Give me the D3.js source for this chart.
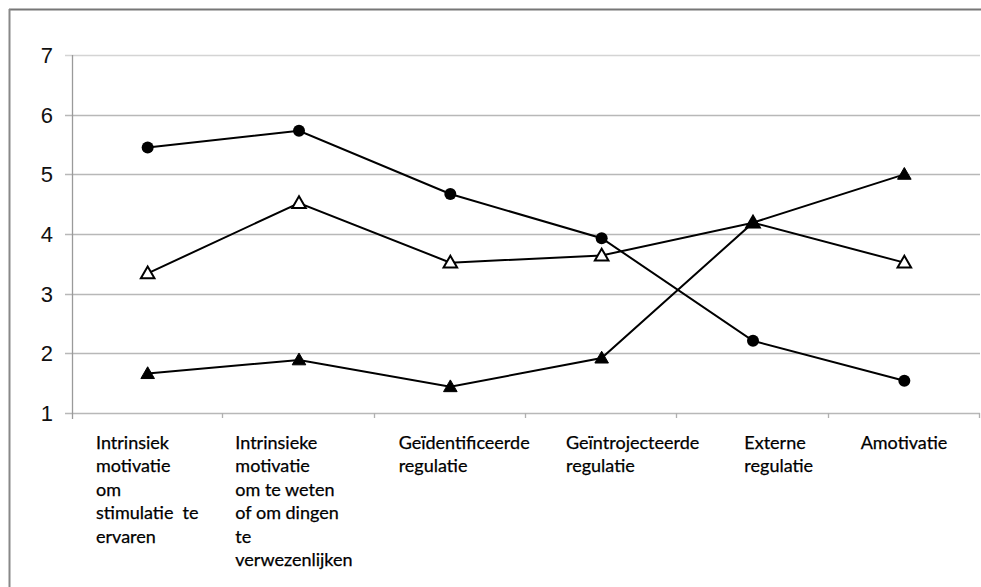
<!DOCTYPE html>
<html><head><meta charset="utf-8">
<script src="https://cdn.jsdelivr.net/npm/d3@7"></script>
<style>html,body{margin:0;padding:0;background:#fff;}</style>
</head><body>
<svg id="c" width="981" height="587"></svg>
<script>
const categories = [
  ["Intrinsiek","motivatie","om","stimulatie  te","ervaren"],
  ["Intrinsieke","motivatie","om te weten","of om dingen","te","verwezenlijken"],
  ["Geïdentificeerde","regulatie"],
  ["Geïntrojecteerde","regulatie"],
  ["Externe","regulatie"],
  ["Amotivatie"]
];
const yTicks = [1,2,3,4,5,6,7];
const seriesCircle = [5.45, 5.73, 4.67, 3.93, 2.21, 1.54];
const seriesOpenTri = [3.34, 4.52, 3.52, 3.64, 4.19, 3.52];
const seriesFilledTri = [1.66, 1.89, 1.44, 1.92, 4.19, 5.0];

const svg = d3.select("#c");
const W = 981, H = 587;
const x = d3.scaleBand().domain(d3.range(categories.length)).range([72, 980]).paddingInner(0).paddingOuter(0);
const y = d3.scaleLinear().domain([1,7]).range([413, 55]);

// frame (top & left edges)
svg.append("line").attr("x1",9).attr("x2",W).attr("y1",9.5).attr("y2",9.5).attr("stroke","#777").attr("stroke-width",2);
svg.append("line").attr("x1",9.5).attr("x2",9.5).attr("y1",9).attr("y2",H).attr("stroke","#888").attr("stroke-width",2);

// gridlines
svg.append("g").selectAll("line").data(yTicks).join("line")
  .attr("x1",65).attr("x2",980)
  .attr("y1",d=>Math.round(y(d))+0.5).attr("y2",d=>Math.round(y(d))+0.5)
  .attr("stroke",d=>d===7?"#d4d4d4":"#b8b8b8").attr("stroke-width",1.3);

// y axis line
svg.append("line").attr("x1",72.5).attr("x2",72.5).attr("y1",55).attr("y2",419).attr("stroke","#9a9a9a").attr("stroke-width",1.3);
// x ticks
const bounds = d3.range(categories.length+1).map(i => i<categories.length ? x(i) : x(categories.length-1)+x.bandwidth());
svg.append("g").selectAll("line").data(bounds.slice(1)).join("line")
  .attr("x1",d=>Math.round(d)-0.5).attr("x2",d=>Math.round(d)-0.5).attr("y1",413).attr("y2",418)
  .attr("stroke","#b0b0b0").attr("stroke-width",1.3);

// y tick labels
svg.append("g").selectAll("text").data(yTicks).join("text")
  .attr("x",53).attr("y",d=>y(d)).attr("dy","0.36em").attr("text-anchor","end")
  .attr("font-family","Liberation Sans, Arial, sans-serif").attr("font-size",22).attr("fill","#111")
  .text(d=>d);

// category labels
const labelOffset = [24, 12, 24, 40, 67, 32];
const lg = svg.append("g").attr("font-family","Lato, 'Open Sans', sans-serif").attr("font-size",18).attr("fill","#000")
  .attr("stroke","#000").attr("stroke-width",0.25);
categories.forEach((lines,i)=>{
  const t = lg.append("text").attr("x", x(i)+labelOffset[i]).attr("y",449).attr("xml:space","preserve");
  lines.forEach((s,j)=>{
    t.append("tspan").attr("x", x(i)+labelOffset[i]).attr("y", 449 + j*23.4).text(s);
  });
});

const cx = i => x(i) + x.bandwidth()/2;
const line = d3.line().x((d,i)=>cx(i)).y(d=>y(d));

const series = [
  {data: seriesCircle, shape:"circle"},
  {data: seriesOpenTri, shape:"open"},
  {data: seriesFilledTri, shape:"filled"}
];
series.forEach(s=>{
  svg.append("path").attr("d",line(s.data)).attr("fill","none").attr("stroke","#000").attr("stroke-width",2);
});
const tri = d3.symbol().type(d3.symbolTriangle).size(80);
series.forEach(s=>{
  const g = svg.append("g");
  if(s.shape==="circle"){
    g.selectAll("circle").data(s.data).join("circle")
      .attr("cx",(d,i)=>cx(i)).attr("cy",d=>y(d)).attr("r",6).attr("fill","#000");
  } else {
    g.selectAll("path").data(s.data).join("path")
      .attr("d",tri).attr("transform",(d,i)=>`translate(${cx(i)},${y(d)+1})`)
      .attr("fill", s.shape==="open" ? "#fff" : "#000")
      .attr("stroke","#000").attr("stroke-width", s.shape==="open" ? 2 : 1);
  }
});
</script>
</body></html>
